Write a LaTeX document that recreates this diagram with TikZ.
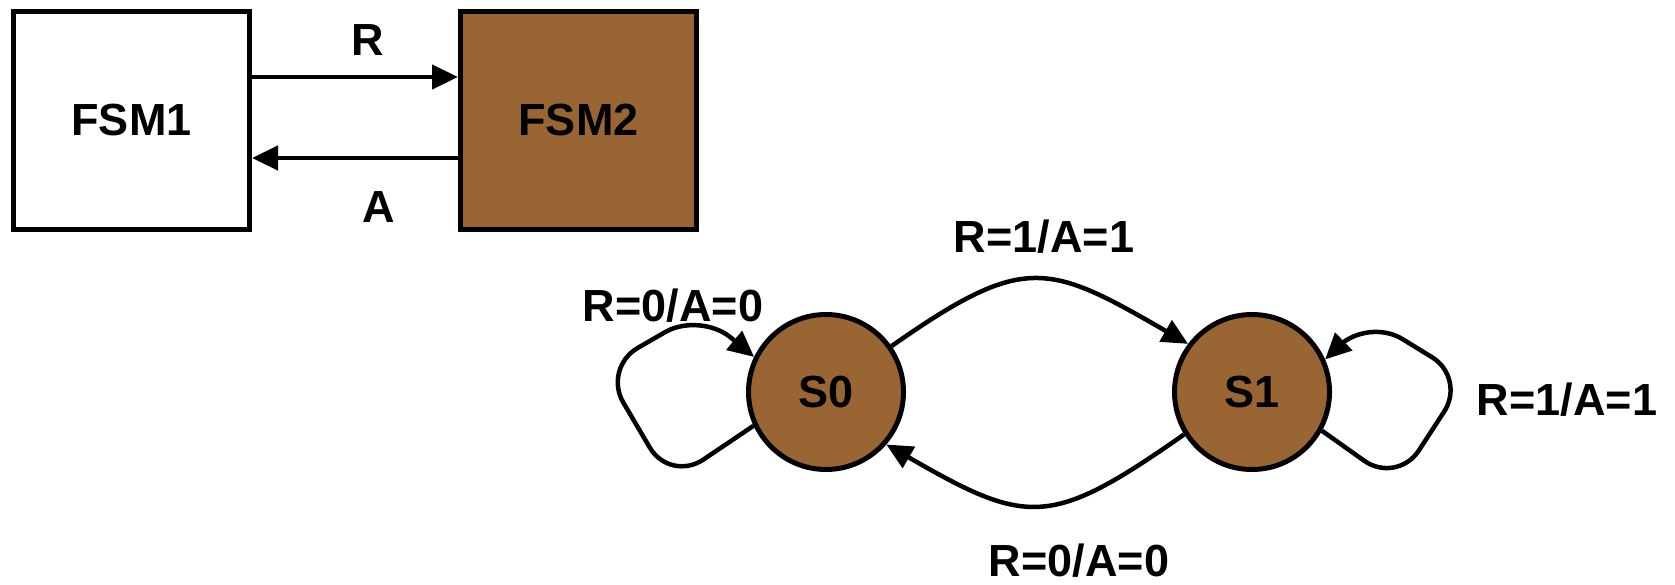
\documentclass[tikz,border=0pt]{standalone}
\usepackage{fontspec}
\setmainfont{Liberation Sans}
\usetikzlibrary{arrows.meta}
\definecolor{brownfill}{HTML}{996633}
\begin{document}
\begin{tikzpicture}[x=1pt,y=1pt,
  every node/.style={font=\fontsize{45}{54}\selectfont\bfseries},
  blockbox/.style={draw, line width=5pt, minimum width=236pt, minimum height=218pt, inner sep=0pt},
  statenode/.style={circle, draw, line width=5pt, fill=brownfill, minimum size=155pt, inner sep=0pt},
  arr/.style={line width=4.5pt, -{Triangle[length=26pt,width=24pt]}},
  lbl/.style={inner sep=0pt}]
\useasboundingbox (0,0) rectangle (1675,-584);
% block diagram
\node[blockbox] (fsm1) at (131.5,-120) {FSM1};
\node[blockbox, fill=brownfill] (fsm2) at (578.5,-120) {FSM2};
\draw[arr] ([yshift=43pt]fsm1.east) -- ([yshift=43pt]fsm2.west);
\draw[arr] ([yshift=-38pt]fsm2.west) -- ([yshift=-38pt]fsm1.east);
\node[lbl] (lr) at (368,-40) {R};
\node[lbl] (la) at (379,-207) {A};
% state diagram
\node[statenode] (s0) at (826,-392) {S0};
\node[statenode] (s1) at (1252,-392) {S1};
\draw[arr] (s0.35) to[out=35, in=150, looseness=1.4] (s1.143);
\draw[arr] (s1.212) to[out=215, in=-30, looseness=1.4] (s0.-41);
\draw[arr, rounded corners=40pt] (s0.205) -- (670,-482) -- (603,-368) -- (700,-312) -- (s0.154);
\draw[arr, rounded corners=40pt] (s1.-29) -- (1397,-484) -- (1466,-378) -- (1368,-318) -- (s1.24);
\node[lbl] (t01) at (1044,-237) {R=1/A=1};
\node[lbl] (t10) at (1079,-561) {R=0/A=0};
\node[lbl] (t00) at (673,-306) {R=0/A=0};
\node[lbl] (t11) at (1567,-400) {R=1/A=1};
\end{tikzpicture}
\end{document}
